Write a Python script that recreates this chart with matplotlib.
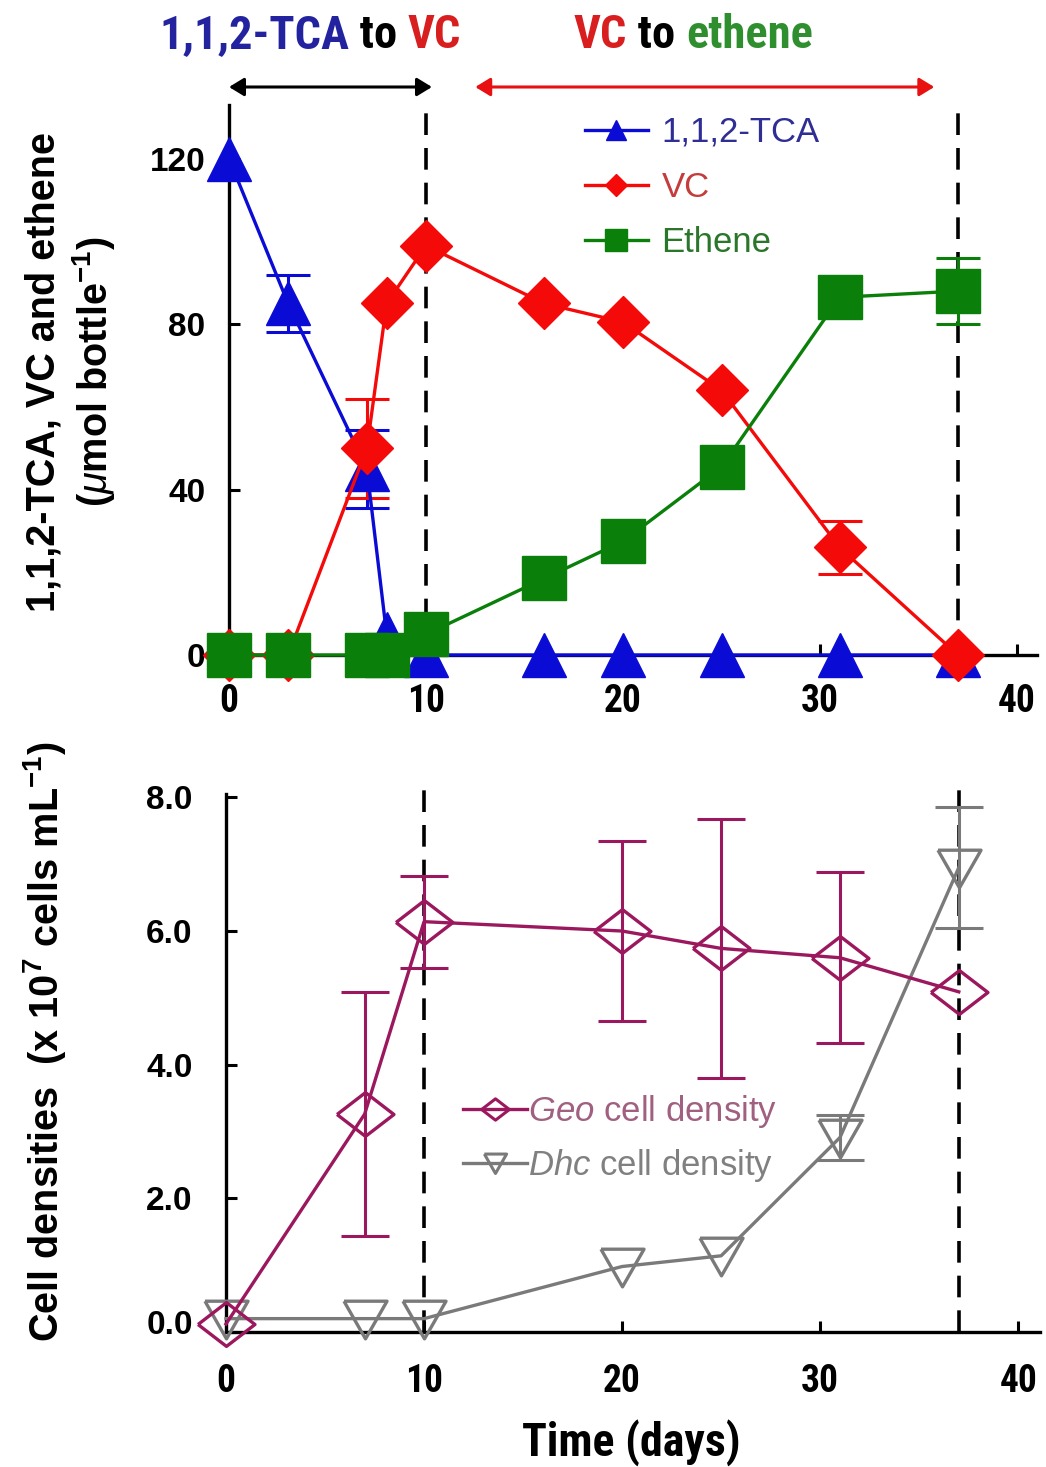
import matplotlib
matplotlib.use('Agg')
import matplotlib.pyplot as plt
from matplotlib import font_manager as fm
from matplotlib.lines import Line2D
from matplotlib.transforms import ScaledTranslation
import numpy as np

def has_font(name):
    try:
        fm.findfont(fm.FontProperties(family=name), fallback_to_default=False)
        return True
    except Exception:
        return False

SANS = 'Liberation Sans' if has_font('Liberation Sans') else 'DejaVu Sans'

def find_narrow_bold():
    pref = ['liberation', 'arial', 'noto', 'roboto', 'open', 'dejavu']
    best = None
    for f in fm.fontManager.ttflist:
        n = (f.name + ' ' + f.fname).lower()
        if f.style != 'normal':
            continue
        if not (('narrow' in n) or ('condensed' in n and 'semicondensed' not in n and 'extracondensed' not in n)
                or f.stretch == 'condensed'):
            continue
        w = f.weight
        if isinstance(w, str):
            w = {'bold': 700, 'normal': 400, 'regular': 400}.get(w, 400)
        if w < 600 or w > 750:
            continue
        rank = next((i for i, p in enumerate(pref) if p in n), len(pref))
        if best is None or rank < best[0]:
            best = (rank, f.fname)
    return best[1] if best else None

NARROW_FILE = find_narrow_bold()

plt.rcParams['font.family'] = [SANS, 'DejaVu Sans']
plt.rcParams['mathtext.fontset'] = 'custom'
plt.rcParams['mathtext.rm'] = SANS
plt.rcParams['mathtext.it'] = SANS + ':italic'
plt.rcParams['mathtext.bf'] = SANS + ':bold'

def narrow_fp(size):
    if NARROW_FILE:
        return fm.FontProperties(fname=NARROW_FILE, size=size)
    return fm.FontProperties(family=SANS, weight='bold', size=size * 0.86)

# ---------------- data ----------------
days_chem = [0, 3, 7, 8, 10, 16, 20, 25, 31, 37]
tca = [120, 85, 45, 5, 0, 0, 0, 0, 0, 0]
tca_err = [0, 7, 9.5, 0, 0, 0, 0, 0, 0, 0]
vc = [0, 0, 50, 85, 99, 85, 80.5, 64, 26, 0]
vc_err = [0, 0, 12, 0, 0, 0, 0, 0, 6.5, 0]
eth = [0, 0, 0, 0, 5, 18.5, 27.5, 45.5, 86.5, 88]
eth_err = [0, 0, 0, 0, 0, 0, 0, 0, 0, 8]

days_cell = [0, 7, 10, 20, 25, 31, 37]
geo = [0.12, 3.26, 6.14, 6.0, 5.74, 5.6, 5.09]
geo_err = [0, 1.83, 0.69, 1.35, 1.94, 1.28, 0]
dhc = [0.2, 0.2, 0.2, 0.98, 1.14, 2.91, 6.95]
dhc_err = [0, 0, 0, 0, 0, 0.33, 0.9]

phase_lines = [10, 37]
top_yticks = [0, 40, 80, 120]
bot_yticks = [0, 2, 4, 6, 8]
bot_yticklabels = ['0.0', '2.0', '4.0', '6.0', '8.0']
xticks = [0, 10, 20, 30, 40]

C_TCA = '#0b0bd6'
C_VC = '#f50a0a'
C_ETH = '#0a800a'
C_GEO = '#9c185e'
C_DHC = '#7a7a7a'

W, H = 1046, 1467
fig = plt.figure(figsize=(W / 100, H / 100), dpi=100)

def px_axes(left, right, top, bottom):
    return fig.add_axes([left / W, 1 - bottom / H, (right - left) / W, (bottom - top) / H])

def errbars(ax, x, y, e, color, capsize, lw=2.2):
    x = np.asarray(x, float); y = np.asarray(y, float); e = np.asarray(e, float)
    m = e > 0
    if m.any():
        ax.errorbar(x[m], y[m], yerr=e[m], fmt='none', ecolor=color, elinewidth=lw,
                    capsize=capsize, capthick=lw, zorder=2, clip_on=False)

# ---------------- top panel ----------------
ax1 = px_axes(205.4, 1036.7, 105, 655)
ax1.set_xlim(-1.2, 41)
ax1.set_ylim(0, 133)

for xv in phase_lines:
    ax1.plot([xv, xv], [0, 133], color='black', lw=2.6, ls=(0, (6, 3.6)), zorder=1, clip_on=False)

errbars(ax1, days_chem, tca, tca_err, C_TCA, 16)
ax1.plot(days_chem, tca, color=C_TCA, lw=2.4, marker='^', ms=31, mfc=C_TCA, mec=C_TCA,
         mew=1, zorder=3, clip_on=False)
errbars(ax1, days_chem, vc, vc_err, C_VC, 16)
ax1.plot(days_chem, vc, color=C_VC, lw=2.4, marker='D', ms=26, mfc=C_VC, mec=C_VC,
         mew=1, zorder=4, clip_on=False)
errbars(ax1, days_chem, eth, eth_err, C_ETH, 16)
ax1.plot(days_chem, eth, color=C_ETH, lw=2.4, marker='s', ms=31, mfc=C_ETH, mec=C_ETH,
         mew=1, zorder=5, clip_on=False)

for s in ['top', 'right']:
    ax1.spines[s].set_visible(False)
ax1.spines['left'].set_position(('data', 0))
for s in ['left', 'bottom']:
    ax1.spines[s].set_linewidth(2.4)
ax1.set_xticks(xticks)
ax1.set_yticks(top_yticks)
ax1.tick_params(axis='both', direction='in', length=8, width=2.2)
ax1.tick_params(axis='x', pad=20)
ax1.tick_params(axis='y', pad=17)
for lab in ax1.get_xticklabels():
    lab.set_fontproperties(narrow_fp(27))
for lab in ax1.get_yticklabels():
    lab.set_fontweight('bold'); lab.set_fontsize(24)

# legend top
h1 = [Line2D([], [], color=C_TCA, lw=2.4, marker='^', ms=15, mfc=C_TCA, mec=C_TCA),
      Line2D([], [], color=C_VC, lw=2.4, marker='D', ms=11, mfc=C_VC, mec=C_VC),
      Line2D([], [], color=C_ETH, lw=2.4, marker='s', ms=16, mfc=C_ETH, mec=C_ETH)]
leg1 = ax1.legend(h1, ['1,1,2-TCA', 'VC', 'Ethene'], loc='upper left',
                  bbox_to_anchor=(585 / W, 1 - 116 / H), bbox_transform=fig.transFigure,
                  frameon=False, fontsize=25, handlelength=1.8, handletextpad=0.4,
                  labelspacing=0.63, borderpad=0, borderaxespad=0)
for t, c in zip(leg1.get_texts(), ['#2e2e95', '#c43c3c', '#2a762a']):
    t.set_color(c)

# phase arrows
xt = ax1.get_xaxis_transform()
ya = (655 - 87) / 550
ax1.annotate('', xy=(10.3, ya), xytext=(0, ya), xycoords=xt, textcoords=xt,
             arrowprops=dict(arrowstyle='<|-|>,head_length=0.9,head_width=0.55', color='black', lw=2.2,
                             shrinkA=0, shrinkB=0), annotation_clip=False)
ax1.annotate('', xy=(35.8, ya), xytext=(12.5, ya), xycoords=xt, textcoords=xt,
             arrowprops=dict(arrowstyle='<|-|>,head_length=0.9,head_width=0.55', color='#e81010', lw=2.2,
                             shrinkA=0, shrinkB=0), annotation_clip=False)

# phase titles (multi-coloured)
yt = (655 - 35) / 550
TSIZE = 33.5
def colored_title(x0, parts):
    t = ax1.text(x0, yt, parts[0][0], color=parts[0][1], transform=xt, ha='left', va='center',
                 fontproperties=narrow_fp(TSIZE))
    prev = t
    for s, c in parts[1:]:
        prev = ax1.annotate(s, xy=(1, 0), xycoords=prev, ha='left', va='bottom', color=c,
                            fontproperties=narrow_fp(TSIZE), annotation_clip=False)

colored_title(-3.55, [('1,1,2-TCA', '#2323a0'), (' to ', 'black'), ('VC', '#d81e1e')])
colored_title(17.5, [('VC', '#d81e1e'), (' to ', 'black'), ('ethene', '#2f8f2f')])

# ---------------- bottom panel ----------------
ax2 = px_axes(226, 1040, 784, 1332)
ax2.set_xlim(0, 41.1)
ax2.set_ylim(0, 8.2)

for xv in phase_lines:
    ax2.plot([xv, xv], [0, 8.25], color='black', lw=2.6, ls=(0, (6, 3.6)), zorder=1, clip_on=False)

geo_marker = [(-1.3, 0), (0, 1), (1.3, 0), (0, -1), (-1.3, 0)]
dhc_marker = [(-1, 0.85), (1, 0.85), (0, -0.9), (-1, 0.85)]

errbars(ax2, days_cell, geo, geo_err, C_GEO, 17)
ax2.plot(days_cell, geo, color=C_GEO, lw=2.4, marker=geo_marker, ms=41, mfc='none', mec=C_GEO,
         mew=2.4, zorder=4, clip_on=False)
errbars(ax2, days_cell, dhc, dhc_err, C_DHC, 17)
ax2.plot(days_cell, dhc, color=C_DHC, lw=2.4, marker=dhc_marker, ms=31, mfc='none', mec=C_DHC,
         mew=2.4, zorder=3, clip_on=False)

for s in ['top', 'right']:
    ax2.spines[s].set_visible(False)
for s in ['left', 'bottom']:
    ax2.spines[s].set_linewidth(2.4)
ax2.spines['left'].set_bounds(0, 8.05)
ax2.set_xticks(xticks)
ax2.set_yticks(bot_yticks)
ax2.set_yticklabels(bot_yticklabels)
ax2.tick_params(axis='both', direction='in', length=8, width=2.2)
ax2.tick_params(axis='x', pad=22)
ax2.tick_params(axis='y', pad=24)
for lab in ax2.get_xticklabels():
    lab.set_fontproperties(narrow_fp(27))
ylabs = ax2.get_yticklabels()
for lab in ylabs:
    lab.set_fontweight('bold'); lab.set_fontsize(24)
ylabs[0].set_transform(ylabs[0].get_transform() + ScaledTranslation(0, 10 / 100, fig.dpi_scale_trans))

h2 = [Line2D([], [], color=C_GEO, lw=2.4, marker=geo_marker, ms=20, mfc='none', mec=C_GEO, mew=2.2),
      Line2D([], [], color=C_DHC, lw=2.4, marker=dhc_marker, ms=16, mfc='none', mec=C_DHC, mew=2.2)]
leg2 = ax2.legend(h2, [r'$\mathit{Geo}$ cell density', r'$\mathit{Dhc}$ cell density'], loc='upper left',
                  bbox_to_anchor=(463 / W, 1 - 1093 / H), bbox_transform=fig.transFigure,
                  frameon=False, fontsize=25, handlelength=1.85, handletextpad=0.02,
                  labelspacing=0.5, borderpad=0, borderaxespad=0)
for t, c in zip(leg2.get_texts(), ['#a06080', '#808080']):
    t.set_color(c)

# ---------------- axis labels ----------------
fig.text(71 / W, 1 - 372 / H, '1,1,2-TCA, VC and ethene\n(' + r'$\mathit{\mu}$' + 'mol bottle' + r'$^{\mathbf{-1}}$' + ')',
         rotation=90, ha='center', va='center', multialignment='center', fontsize=28.5,
         fontweight='bold', linespacing=1.2)
fig.text(45 / W, 1 - 1042 / H, 'Cell densities  (x 10' + r'$^{\mathbf{7}}$' + ' cells mL' + r'$^{\mathbf{-1}}$' + ')',
         rotation=90, ha='center', va='center', fontsize=28.5, fontweight='bold')
fig.text(631 / W, 1 - 1443 / H, 'Time (days)', ha='center', va='center',
         fontproperties=narrow_fp(33))

fig.savefig('out.png', dpi=100)
